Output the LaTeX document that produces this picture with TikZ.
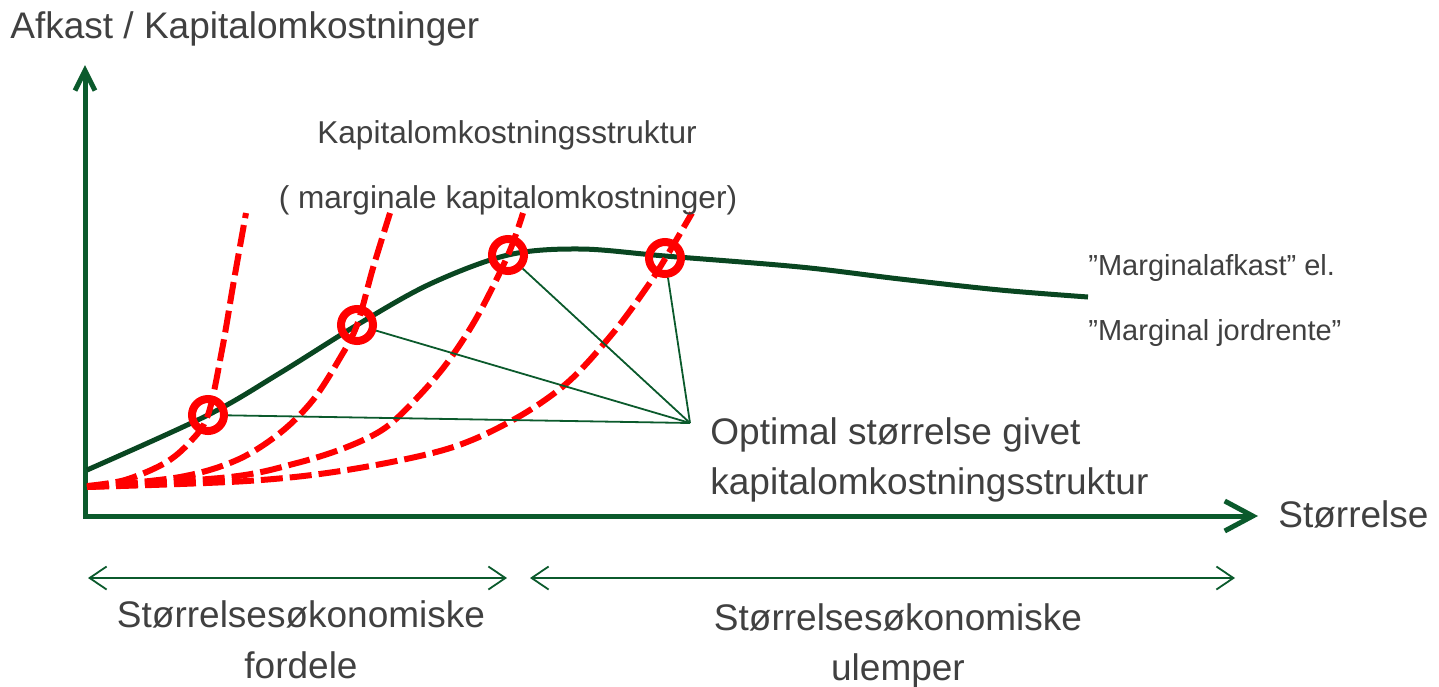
\documentclass[tikz,border=0pt]{standalone}
\usepackage{fontspec}
\setmainfont{Liberation Sans}
\usetikzlibrary{arrows.meta}
\definecolor{axisgreen}{HTML}{0B5A2C}
\definecolor{curvegreen}{HTML}{094621}
\definecolor{textgray}{HTML}{404040}

\begin{document}
\begin{tikzpicture}[%
      x=0.5pt, y=-0.5pt,
      axisline/.style={color=axisgreen, line width=2.5pt},
      costcurve/.style={color=red, line width=3pt, dash pattern=on 11pt off 3.5pt},
      optline/.style={color=axisgreen, line width=0.9pt},
      spanarrow/.style={color=axisgreen, line width=0.9pt,
        {Straight Barb[length=8.5pt,width=11.5pt]}-{Straight Barb[length=8.5pt,width=11.5pt]}},
      ring/.style={circle, draw=red, line width=4pt, minimum size=16pt, inner sep=0pt},
      bigtext/.style={color=textgray, font=\fontsize{18.5}{22}\selectfont, inner sep=0pt},
      midtext/.style={color=textgray, font=\fontsize{14.5}{17}\selectfont, inner sep=0pt},
      smalltext/.style={color=textgray, font=\fontsize{15.8}{19}\selectfont, inner sep=0pt},
      ]
      \useasboundingbox (0,0) rectangle (1439,686);

      % axes
      \coordinate (ytip) at (85,65);
      \coordinate (origin) at (85,516);
      \coordinate (xtip) at (1258,516);
      \draw [axisline, {Straight Barb[length=10pt,width=10pt]}-{Straight Barb[length=14pt,width=15pt]}]
            (ytip) -- (origin) -- (xtip);

      % marginal return
      \draw [color=curvegreen, line width=2.5pt] plot[smooth, tension=0.55] coordinates {
            (87,470) (208,415) (280,373) (357,325) (430,284) (508,255)
            (580,249) (665,256) (800,267) (900,279) (1000,290) (1088,297)};

      % capital cost curves
      \draw [costcurve] plot[smooth, tension=0.55] coordinates {
            (87,486) (125,480) (165,463) (190,442) (208,415) (222,350) (234,280) (246,213)};
      \draw [costcurve] plot[smooth, tension=0.55] coordinates {
            (87,487) (180,477) (237,460) (280,433) (313,400) (340,358) (357,325) (373,268) (390,213)};
      \draw [costcurve] plot[smooth, tension=0.55] coordinates {
            (87,487) (230,477) (297,463) (347,447) (385,428) (417,398) (447,363) (477,317) (508,255) (523,213)};
      \draw [costcurve] plot[smooth, tension=0.55] coordinates {
            (87,487) (247,481) (347,470) (447,449) (513,420) (567,383) (613,333) (647,287) (665,259) (692,213)};

      % optimum points
      \node [ring] (c1) at (208,415) {};
      \node [ring] (c2) at (357,325) {};
      \node [ring] (c3) at (508,255) {};
      \node [ring] (c4) at (665,258) {};

      \coordinate (opt) at (690,423);
      \draw [optline] (c1) -- (opt);
      \draw [optline] (c2) -- (opt);
      \draw [optline] (c3) -- (opt);
      \draw [optline] (c4) -- (opt);

      % spans
      \coordinate (gainL) at (88,578);
      \coordinate (gainR) at (507,578);
      \coordinate (lossL) at (530,578);
      \coordinate (lossR) at (1235,578);
      \draw [spanarrow] (gainL) -- (gainR);
      \draw [spanarrow] (lossL) -- (lossR);

      % texts
      \node [bigtext, anchor=base west] (ylabel) at (10,38) {Afkast / Kapitalomkostninger};
      \node [bigtext, anchor=base west] (xlabel) at (1278,527) {Størrelse};
      \node [smalltext, anchor=base] (struct) at (507,143) {Kapitalomkostningsstruktur};
      \node [smalltext, anchor=base] (marg) at (508,208) {( marginale kapitalomkostninger)};
      \node [midtext, anchor=base west] (afkast) at (1088,275) {”Marginalafkast” el.};
      \node [midtext, anchor=base west] (jord) at (1088,340) {”Marginal jordrente”};
      \node [bigtext, anchor=base west] (optA) at (710,444) {Optimal størrelse givet};
      \node [bigtext, anchor=base west] (optB) at (710,494) {kapitalomkostningsstruktur};
      \node [bigtext, anchor=base] (gainA) at (301,627) {Størrelsesøkonomiske};
      \node [bigtext, anchor=base] (gainB) at (301,678) {fordele};
      \node [bigtext, anchor=base] (lossA) at (898,630) {Størrelsesøkonomiske};
      \node [bigtext, anchor=base] (lossB) at (898,680) {ulemper};
      \end{tikzpicture}
\end{document}
